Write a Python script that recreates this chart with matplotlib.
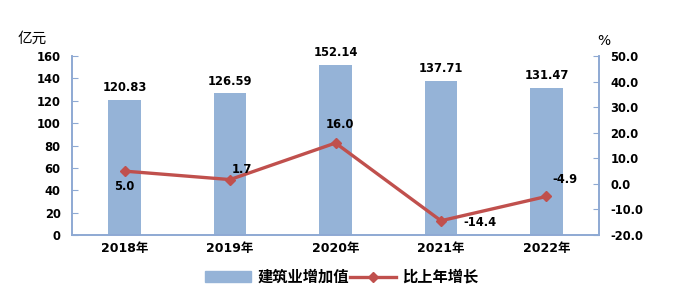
import numpy as np
import matplotlib.pyplot as plt
from matplotlib.lines import Line2D
from matplotlib.patches import Patch

plt.rcParams['font.family'] = ['DejaVu Sans', 'Noto Sans CJK SC']

# data
years = ['2018年', '2019年', '2020年', '2021年', '2022年']
value_added = [120.83, 126.59, 152.14, 137.71, 131.47]   # 亿元
growth = [5.0, 1.7, 16.0, -14.4, -4.9]                   # %

bar_color = '#95B3D7'
line_color = '#C0504D'
axis_color = '#8EA9D3'

fig = plt.figure(figsize=(6.84, 2.92), dpi=100)
ax = fig.add_axes([0.105, 0.195, 0.771, 0.613])
ax2 = ax.twinx()

x = np.arange(len(years))
ax.bar(x, value_added, width=0.31, color=bar_color, zorder=1)
ax.set_xlim(-0.5, len(years) - 0.5)
ax.set_ylim(0, 160)
ax.set_yticks(np.arange(0, 161, 20))

ax2.plot(x, growth, color=line_color, lw=2.4, marker='D', ms=5.5, zorder=3)
ax2.set_ylim(-20, 50)
ax2.set_yticks(np.arange(-20, 51, 10))
ax2.set_yticklabels([f'{v:.1f}' for v in np.arange(-20, 51, 10)])

for a in (ax, ax2):
    a.spines['top'].set_visible(False)
    for s in ('left', 'right', 'bottom'):
        a.spines[s].set_color(axis_color)
        a.spines[s].set_linewidth(1.2)
    a.tick_params(axis='y', direction='in', length=4, color=axis_color,
                  labelsize=8.3, pad=8)
    for lab in a.get_yticklabels():
        lab.set_fontweight('bold')

ax.set_xticks(x)
ax.set_xticklabels(years, fontsize=9, fontweight='bold')
ax.tick_params(axis='x', length=0, pad=5)

# bar labels
for xi, v in zip(x, value_added):
    ax.text(xi, v + 5, f'{v:.2f}', ha='center', va='bottom',
            fontsize=8.3, fontweight='bold')

# line labels: (dx, dy, ha)
offsets = [(0, -11, 'center'), (1, 7, 'left'), (3, 13, 'center'),
           (16, -1.5, 'left'), (4, 12, 'left')]
for xi, v, (dx, dy, ha) in zip(x, growth, offsets):
    ax2.annotate(f'{v:.1f}', (xi, v), xytext=(dx, dy), textcoords='offset points',
                 ha=ha, va='center', fontsize=8.3, fontweight='bold')

fig.text(0.026, 0.868, '亿元', fontsize=10.5, ha='left', va='center')
fig.text(0.873, 0.86, '%', fontsize=10, ha='left', va='center')

handles = [Patch(color=bar_color),
           Line2D([0], [0], color=line_color, lw=2.4, marker='D', ms=5)]
fig.legend(handles, ['建筑业增加值', '比上年增长'], loc='center',
           bbox_to_anchor=(0.5, 0.05), ncol=2, frameon=False,
           prop={'weight': 'bold', 'size': 11}, handlelength=3.0,
           columnspacing=0.1, handletextpad=0.4)

fig.savefig('out.png', dpi=100)
